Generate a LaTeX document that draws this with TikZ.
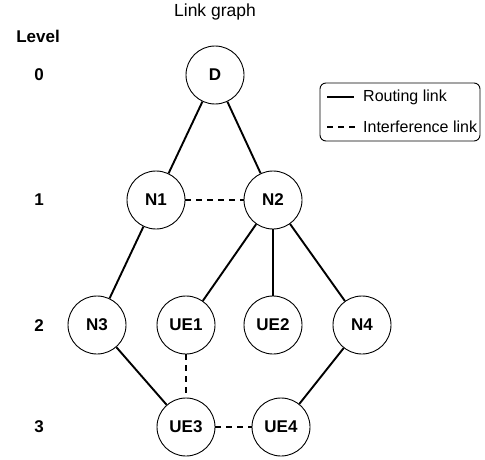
\documentclass[tikz,border=0pt]{standalone}
\usepackage{fontspec}
\setmainfont{Liberation Sans}
\begin{document}
\begin{tikzpicture}[x=1pt,y=-1pt,
    station/.style={draw,circle,line width=0.9pt,minimum size=58pt,inner sep=0pt,font=\fontsize{17}{20}\selectfont\bfseries},
    level/.style={font=\fontsize{17}{20}\selectfont\bfseries},
    routing/.style={line width=1.9pt},
    interference/.style={line width=1.9pt,dash pattern=on 6pt off 5pt},
    legendtext/.style={anchor=west,inner sep=0pt,font=\fontsize{16}{19}\selectfont}]
      \useasboundingbox (0,0) rectangle (485,460);
      \node (title) at (215,12) {\fontsize{17.5}{20}\selectfont Link graph};
      \node[level] (lvl) at (38,36) {Level};
      \node[level] (l0) at (39,75) {0};
      \node[level] (l1) at (39,200) {1};
      \node[level] (l2) at (39,326) {2};
      \node[level] (l3) at (39,427) {3};
      \draw
        (215,75) node[station] (D){D}
        (156,200) node[station] (N1){N1}
        (273,200) node[station] (N2){N2}
        (97,325) node[station] (N3){N3}
        (186,325) node[station] (UE1){UE1}
        (273,325) node[station] (UE2){UE2}
        (362,325) node[station] (N4){N4}
        (186,427) node[station] (UE3){UE3}
        (281,427) node[station] (UE4){UE4};
      \begin{scope}[routing]
        \draw (D) to (N1);
        \draw (D) to (N2);
        \draw (N1) to (N3);
        \draw (N2) to (UE1);
        \draw (N2) to (UE2);
        \draw (N2) to (N4);
        \draw (N3) to (UE3);
        \draw (N4) to (UE4);
      \end{scope}
      \begin{scope}[interference]
        \draw (N1) to (N2);
        \draw (UE1) to (UE3);
        \draw (UE3) to (UE4);
      \end{scope}
      % legend
      \draw[line width=0.9pt,rounded corners=6pt] (320,83) rectangle (480,141);
      \coordinate (r0) at (327,97);
      \coordinate (r1) at (354,97);
      \coordinate (i0) at (327,127);
      \coordinate (i1) at (359,127);
      \draw[routing] (r0) to (r1);
      \draw[interference] (i0) to (i1);
      \node[legendtext] (rtext) at (363,97) {Routing link};
      \node[legendtext] (itext) at (363,127) {Interference link};
    \end{tikzpicture}
\end{document}
